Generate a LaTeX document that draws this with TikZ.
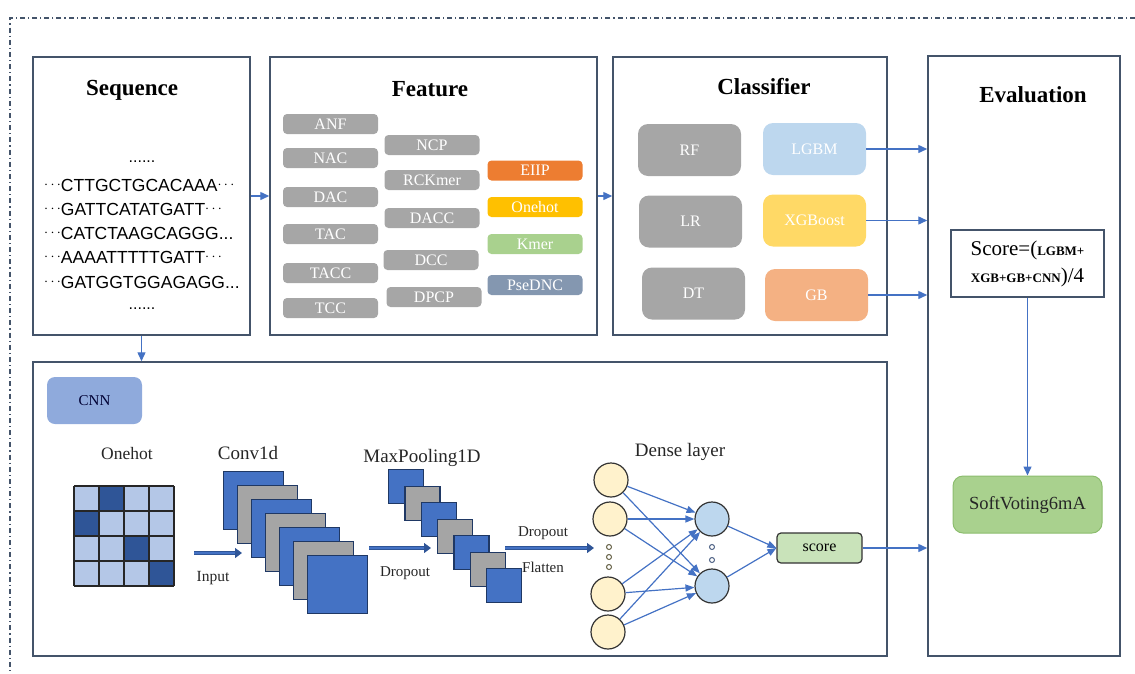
\documentclass[tikz,border=0pt]{standalone}
\usepackage{fontspec}
\setmainfont{Liberation Serif}
\newfontfamily\seqfont{Liberation Sans}
\usetikzlibrary{arrows.meta}

\definecolor{boxline}{HTML}{44546A}
\definecolor{flow}{HTML}{4472C4}
\definecolor{featgray}{HTML}{A6A6A6}
\definecolor{eiip}{HTML}{ED7D31}
\definecolor{onehotc}{HTML}{FFC000}
\definecolor{kmerc}{HTML}{A9D18E}
\definecolor{psednc}{HTML}{8497B0}
\definecolor{lgbmc}{HTML}{BDD7EE}
\definecolor{xgbc}{HTML}{FFD966}
\definecolor{gbc}{HTML}{F4B183}
\definecolor{cnnc}{HTML}{8FAADC}
\definecolor{cellL}{HTML}{B4C7E7}
\definecolor{cellD}{HTML}{2F5597}
\definecolor{sqblue}{HTML}{4472C4}
\definecolor{sqgray}{HTML}{A5A5A5}
\definecolor{sqedge}{HTML}{1F3864}
\definecolor{inneur}{HTML}{FFF2CC}
\definecolor{hidneur}{HTML}{BDD7EE}
\definecolor{scorec}{HTML}{C9E3BA}
\definecolor{softc}{HTML}{A9D18E}
\definecolor{softedge}{HTML}{8CBD6E}
\definecolor{labeltext}{HTML}{262626}

\newcommand\pxsize[1]{\fontsize{#1}{#1}\selectfont}
\newcommand\middots{\raisebox{2.6pt}{\pxsize{15}$\cdots$}}

\begin{document}
\begin{tikzpicture}[x=1pt,y=-1pt,
  panel/.style={draw=boxline, line width=1.5pt, inner sep=0pt},
  title/.style={font=\bfseries\pxsize{23}},
  feat/.style={rounded corners=4pt, inner sep=0pt, minimum width=95pt,
    minimum height=20pt, text=white, font=\pxsize{16}},
  clf/.style={rounded corners=10pt, inner sep=0pt, minimum width=103pt,
    minimum height=52pt, text=white, font=\pxsize{16}},
  flowarrow/.style={draw=flow, line width=1.4pt, -{Triangle[length=9pt,width=8pt]}},
  netarrow/.style={draw=flow, line width=1.2pt, -{Triangle[length=9pt,width=7pt]}},
  blockarrow/.style={draw=cellD, line width=1.3pt, double=sqblue, double distance=1.8pt,
    -{Triangle[length=7pt,width=10pt]}},
  seqline/.style={anchor=base west, inner sep=0pt, font=\seqfont\pxsize{17.5}},
  lbl/.style={text=labeltext, inner sep=0pt},
  sq/.style={draw=sqedge, line width=1.2pt, anchor=north west, inner sep=0pt},
  neuron/.style={circle, draw=black!80, line width=1.2pt, minimum size=34pt, inner sep=0pt},
  tinydot/.style={circle, line width=1pt, minimum size=5pt, inner sep=0pt},
]
\useasboundingbox (0,0) rectangle (1135,673);

% outer dash-dot frame
\draw[boxline, line width=1.1pt, dash pattern=on 5pt off 3pt on 1.2pt off 3pt]
  (1135,18) -- (10,18) -- (10,673);

% ---------------- panels ----------------
\node[panel, minimum width=217pt, minimum height=278pt] (seq) at (141.5,196) {};
\node[panel, minimum width=327pt, minimum height=278pt] (feat) at (433.5,196) {};
\node[panel, minimum width=274pt, minimum height=278pt] (clf) at (750,196) {};
\node[panel, minimum width=192pt, minimum height=600pt] (eval) at (1024,356) {};
\node[panel, minimum width=854pt, minimum height=294pt] (cnnbox) at (460,509) {};

\node[title] (tseq) at (132,90) {Sequence};
\node[title] (tfeat) at (430,89) {Feature};
\node[title] (tclf) at (764,87) {Classifier};
\node[title] (teval) at (1033,95) {Evaluation};

% ---------------- sequences ----------------
\node[seqline, anchor=base] (dtop) at (142,162) {\pxsize{16}......};
\node[seqline] (s1) at (44,191) {\middots CTTGCTGCACAAA\middots};
\node[seqline] (s2) at (44,215) {\middots GATTCATATGATT\middots};
\node[seqline] (s3) at (44,239) {\middots CATCTAAGCAGGG...};
\node[seqline] (s4) at (44,263) {\middots AAAATTTTTGATT\middots};
\node[seqline] (s5) at (44,288) {\middots GATGGTGGAGAGG...};
\node[seqline, anchor=base] (dbot) at (142,309) {\pxsize{16}......};

% ---------------- features ----------------
\node[feat, fill=featgray] (anf)  at (330.5,124) {ANF};
\node[feat, fill=featgray] (nac)  at (330.5,158) {NAC};
\node[feat, fill=featgray] (dac)  at (330.5,197) {DAC};
\node[feat, fill=featgray] (tac)  at (330.5,234) {TAC};
\node[feat, fill=featgray] (tacc) at (330.5,273) {TACC};
\node[feat, fill=featgray] (tcc)  at (330.5,308) {TCC};

\node[feat, fill=featgray] (ncp)    at (432,145) {NCP};
\node[feat, fill=featgray] (rckmer) at (432,180) {RCKmer};
\node[feat, fill=featgray] (dacc)   at (432,218) {DACC};
\node[feat, fill=featgray] (dcc)    at (431,260) {DCC};
\node[feat, fill=featgray] (dpcp)   at (434,297) {DPCP};

\node[feat, fill=eiip]    (eiipn)   at (535,170.5) {EIIP};
\node[feat, fill=onehotc] (onehotn) at (535,207) {Onehot};
\node[feat, fill=kmerc]   (kmern)   at (535,244) {Kmer};
\node[feat, fill=psednc]  (psedncn) at (535,285) {PseDNC};

% ---------------- classifiers ----------------
\node[clf, fill=featgray] (rf) at (689.5,150) {RF};
\node[clf, fill=featgray] (lr) at (690.5,221.5) {LR};
\node[clf, fill=featgray] (dt) at (693.5,293.5) {DT};
\node[clf, fill=lgbmc] (lgbm) at (814.5,149) {LGBM};
\node[clf, fill=xgbc]  (xgb)  at (814.5,220.5) {XGBoost};
\node[clf, fill=gbc]   (gb)   at (816.5,295) {GB};

% ---------------- evaluation ----------------
\node[draw=boxline, line width=1.2pt, minimum width=153pt, minimum height=67pt,
  inner sep=0pt, align=center, font=\fontsize{21}{27}\selectfont] (formula) at (1027.5,263.5)
  {Score=({\fontsize{13}{27}\selectfont\bfseries LGBM+}\\
   {\fontsize{13}{27}\selectfont\bfseries XGB+GB+CNN})/4};
\node[draw=softedge, line width=1pt, fill=softc, rounded corners=10pt,
  minimum width=149pt, minimum height=57pt, inner sep=0pt,
  font=\pxsize{18.5}, text=black!85] (soft) at (1027.5,504.5) {SoftVoting6mA};

% ---------------- CNN branch ----------------
\node[fill=cnnc, rounded corners=8pt, minimum width=95pt, minimum height=47pt,
  inner sep=0pt, font=\pxsize{15}, text=black!80!blue] (cnnlabel) at (94.5,400.5) {CNN};

\node[lbl, font=\pxsize{17.5}] (lonehot) at (127,454) {Onehot};
\node[lbl, font=\pxsize{19}] (lconv) at (248,453) {Conv1d};
\node[lbl, font=\pxsize{19}] (lpool) at (422,458) {MaxPooling1D};
\node[lbl, font=\pxsize{19}] (ldense) at (680,452) {Dense layer};
\node[lbl, font=\pxsize{15.5}] (linput) at (213,578) {Input};
\node[lbl, font=\pxsize{15}] (ldrop1) at (405,573) {Dropout};
\node[lbl, font=\pxsize{15}] (ldrop2) at (543,533) {Dropout};
\node[lbl, font=\pxsize{15}] (lflat) at (543,567) {Flatten};

% one-hot grid: 4x4 cells of 25 units, dark cells mark the hot positions
\foreach \r in {0,...,3}
  \foreach \c in {0,...,3}
    \fill[cellL] ({74+25*\c},{486+25*\r}) rectangle ++(25,25);
\foreach \r/\c in {0/1,1/0,2/2,3/3}
  \fill[cellD] ({74+25*\c},{486+25*\r}) rectangle ++(25,25);
\foreach \i in {0,...,4} {
  \draw[black!85, line width=1.4pt] ({74+25*\i},486) -- ({74+25*\i},586);
  \draw[black!85, line width=1.4pt] (74,{486+25*\i}) -- (174,{486+25*\i});
}

% convolution maps
\foreach \k/\col in {0/sqblue,1/sqgray,2/sqblue,3/sqgray,4/sqblue,5/sqgray,6/sqblue}
  \node[sq, fill=\col, minimum width=60pt, minimum height=58pt]
    (conv\k) at ({223+14*\k},{471+14*\k}) {};

% pooled maps
\foreach \k/\col in {0/sqblue,1/sqgray,2/sqblue,3/sqgray,4/sqblue,5/sqgray,6/sqblue}
  \node[sq, fill=\col, minimum width=35pt, minimum height=34pt]
    (pool\k) at ({388+16.33*\k},{469+16.5*\k}) {};

% block arrows between stages
\coordinate (inS) at (194,553);
\coordinate (inE) at (242,553);
\coordinate (d1S) at (369,548);
\coordinate (d1E) at (431,548);
\coordinate (d2S) at (505,548);
\coordinate (d2E) at (594,548);
\draw[blockarrow] (inS) -- (inE);
\draw[blockarrow] (d1S) -- (d1E);
\draw[blockarrow] (d2S) -- (d2E);

% dense layer
\node[neuron, fill=inneur] (n1) at (611,480) {};
\node[neuron, fill=inneur] (n2) at (610,519) {};
\node[neuron, fill=inneur] (n3) at (608,594) {};
\node[neuron, fill=inneur] (n4) at (608,632) {};
\node[neuron, fill=hidneur] (h1) at (712,519) {};
\node[neuron, fill=hidneur] (h2) at (712,586) {};
\foreach \y [count=\i] in {547,557,567}
  \node[tinydot, draw=black!70!yellow] (ndot\i) at (609,\y) {};
\foreach \y [count=\i] in {547,560}
  \node[tinydot, draw=sqedge!80] (hdot\i) at (712,\y) {};

\node[draw=black!80, line width=1.2pt, fill=scorec, rounded corners=4pt,
  minimum width=85pt, minimum height=30pt, inner sep=0pt, font=\pxsize{16}] (score) at (819.5,548) {score};

\foreach \i in {1,...,4}
  \foreach \j in {1,2}
    \draw[netarrow] (n\i) -- (h\j);
\draw[netarrow] (h1) -- (score.west);
\draw[netarrow] (h2) -- (score.west);

% ---------------- flow connectors ----------------
\draw[flowarrow] (seq) -- (feat);
\draw[flowarrow] (feat) -- (clf);
\draw[flowarrow] (seq.south) -- (seq.south |- cnnbox.north);
\draw[flowarrow] (lgbm.east) -- (lgbm.east -| eval.west);
\draw[flowarrow] (xgb.east) -- (xgb.east -| eval.west);
\draw[flowarrow] (gb.east) -- (gb.east -| eval.west);
\draw[flowarrow] (score.east) -- (score.east -| eval.west);
\draw[flowarrow] (formula.south) -- (soft.north);

\end{tikzpicture}
\end{document}
